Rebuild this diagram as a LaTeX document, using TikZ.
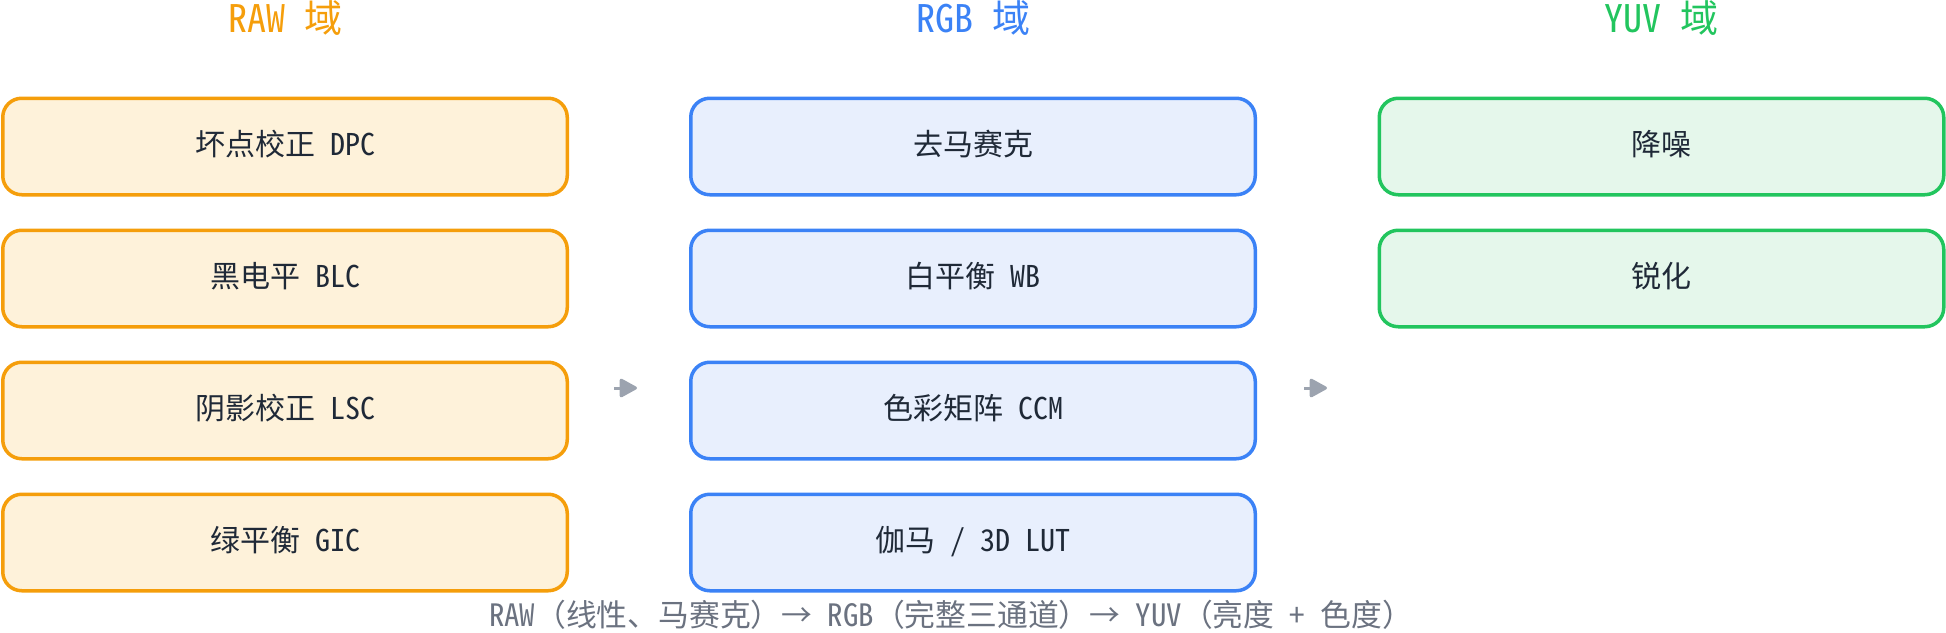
\documentclass[tikz,border=0pt]{standalone}
\usepackage{fontspec}
\setmainfont{Noto Sans CJK SC}[RawFeature=+hwid]
\newfontfamily\cjkfull{Noto Sans CJK SC}
\newfontfamily\arrowfont{Noto Sans CJK SC}[RawFeature=+fwid]
\newcommand\hs{\hspace{0.5em}}
\usetikzlibrary{arrows.meta}
\definecolor{rawc}{HTML}{F59E0B}
\definecolor{rawf}{HTML}{FEF2DA}
\definecolor{rgbc}{HTML}{3B82F6}
\definecolor{rgbf}{HTML}{E8EFFD}
\definecolor{yuvc}{HTML}{22C55E}
\definecolor{yuvf}{HTML}{E5F7EB}
\definecolor{txt}{HTML}{1F2937}
\definecolor{capc}{HTML}{6B7280}
\definecolor{arrc}{HTML}{9CA3AF}
\tikzset{
  stage/.style={rounded corners=19pt, minimum width=564.5pt, minimum height=96.5pt,
    line width=3.5pt, inner sep=0pt, text=txt, text height=20pt, text depth=1.6pt,
    font=\fontsize{30}{34}\selectfont},
  rawbox/.style={stage, draw=rawc, fill=rawf},
  rgbbox/.style={stage, draw=rgbc, fill=rgbf},
  yuvbox/.style={stage, draw=yuvc, fill=yuvf},
  header/.style={font=\fontsize{38}{43}\selectfont, inner sep=0pt, anchor=base},
  flow/.style={draw=arrc, line width=3pt, -{Triangle[length=19pt,width=20pt,round]}},
  caption/.style={text=capc, font=\fontsize{30.8}{35}\selectfont, inner sep=0pt, anchor=base}
}
\begin{document}
\begin{tikzpicture}[x=1pt,y=-1pt]
\useasboundingbox (0,0) rectangle (1946,632);
% headers
\node[header, text=rawc] (hraw) at (285,32) {RAW\hs 域};
\node[header, text=rgbc] (hrgb) at (973,32) {RGB\hs 域};
\node[header, text=yuvc] (hyuv) at (1661.5,32) {YUV\hs 域};
% RAW column
\node[rawbox] (r1) at (285,146.5) {坏点校正\hs DPC};
\node[rawbox] (r2) at (285,278.5) {黑电平\hs BLC};
\node[rawbox] (r3) at (285,410.5) {阴影校正\hs LSC};
\node[rawbox] (r4) at (285,542.5) {绿平衡\hs GIC};
% RGB column
\node[rgbbox] (g1) at (973,146.5) {去马赛克};
\node[rgbbox] (g2) at (973,278.5) {白平衡\hs WB};
\node[rgbbox] (g3) at (973,410.5) {色彩矩阵\hs CCM};
\node[rgbbox] (g4) at (973,542.5) {伽马\hs /\hs 3D\hs LUT};
% YUV column
\node[yuvbox] (y1) at (1661.5,146.5) {降噪};
\node[yuvbox] (y2) at (1661.5,278.5) {锐化};
% arrows
\coordinate (a1s) at (614,388);
\coordinate (a1e) at (637,388);
\coordinate (a2s) at (1304,388);
\coordinate (a2e) at (1327,388);
\draw[flow] (a1s) -- (a1e);
\draw[flow] (a2s) -- (a2e);
% caption
\node[caption] (cap) at (951,626.7) {RAW{\cjkfull （线性、马赛克）}{\arrowfont →}\hs RGB{\cjkfull （完整三通道）}{\arrowfont →}\hs YUV{\cjkfull （亮度}\hs+\hs{\cjkfull 色度）}};
\end{tikzpicture}
\end{document}
